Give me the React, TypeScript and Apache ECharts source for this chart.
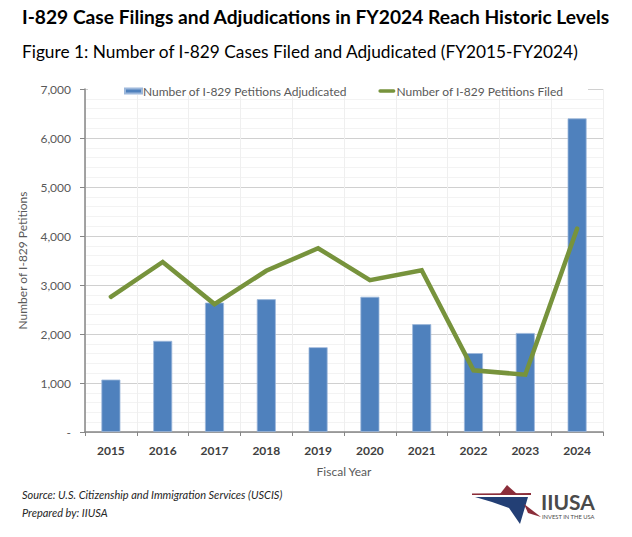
import React, { useEffect, useRef } from "react";
import * as echarts from "echarts";

const years = ["2015", "2016", "2017", "2018", "2019", "2020", "2021", "2022", "2023", "2024"];
const adjudicated = [1070, 1860, 2640, 2710, 1730, 2760, 2200, 1610, 2020, 6400];
const filed = [2760, 3470, 2610, 3290, 3750, 3100, 3300, 1260, 1170, 4150];

const titleText = "I-829 Case Filings and Adjudications in FY2024 Reach Historic Levels";
const subtitleText = "Figure 1: Number of I-829 Cases Filed and Adjudicated (FY2015-FY2024)";
const sourceText = "Source: U.S. Citizenship and Immigration Services (USCIS)";
const preparedText = "Prepared by: IIUSA";

const FONT = "Lato, 'Open Sans', sans-serif";

export default function App() {
  const ref = useRef<HTMLDivElement>(null);
  useEffect(() => {
    document.body.style.margin = "0";
    const chart = echarts.init(ref.current!, null, { renderer: "svg" });
    chart.setOption({
      animation: false,
      backgroundColor: "#fff",
      textStyle: { fontFamily: FONT },
      grid: { left: 85, right: 29, top: 89, bottom: 105, containLabel: false },
      legend: {
        top: 80,
        left: 119,
        itemGap: 31,
        itemWidth: 17,
        itemHeight: 5,
        textStyle: { color: "#595959", fontSize: 12, fontFamily: FONT, padding: [0, 0, 0, -4] },
        data: [
          { name: "Number of I-829 Petitions Adjudicated", icon: "rect" },
          {
            name: "Number of I-829 Petitions Filed",
            icon: "path://M2,0H18A2,2 0 0 1 18,4H2A2,2 0 0 1 2,0Z",
          },
        ],
      },
      xAxis: {
        type: "category",
        data: years,
        boundaryGap: true,
        axisLine: { lineStyle: { color: "#868686", width: 1.5 } },
        axisTick: { show: true, length: 4, lineStyle: { color: "#868686" } },
        splitLine: { show: true, lineStyle: { color: "#EFEFEF", width: 1 } },
        axisLabel: { color: "#404040", fontWeight: "bold", fontSize: 12, margin: 12, fontFamily: FONT },
        name: "Fiscal Year",
        nameLocation: "middle",
        nameGap: 33,
        nameTextStyle: { color: "#595959", fontSize: 12, fontFamily: FONT },
      },
      yAxis: {
        type: "value",
        min: 0,
        max: 7000,
        interval: 1000,
        axisLine: { show: true, lineStyle: { color: "#868686", width: 1.5 } },
        axisTick: { show: true, length: 5, lineStyle: { color: "#868686" } },
        axisLabel: {
          color: "#595959",
          fontSize: 12,
          margin: 14,
          fontFamily: FONT,
          formatter: (v: number) => (v === 0 ? "-" : v.toLocaleString("en-US")),
        },
        splitLine: { show: true, lineStyle: { color: "#D0D0D0", width: 1 } },
        minorTick: { show: false, splitNumber: 5 },
        minorSplitLine: { show: true, lineStyle: { color: "#F3F3F3", width: 1 } },
        name: "Number of I-829 Petitions",
        nameLocation: "middle",
        nameGap: 57,
        nameTextStyle: { color: "#595959", fontSize: 12, fontFamily: FONT },
      },
      series: [
        {
          name: "Number of I-829 Petitions Adjudicated",
          type: "bar",
          data: adjudicated,
          barWidth: 19,
          itemStyle: { color: "#4F81BD", borderColor: "#9DB8DB", borderWidth: 0.8 },
          z: 2,
        },
        {
          name: "Number of I-829 Petitions Filed",
          type: "line",
          data: filed,
          symbol: "none",
          lineStyle: { color: "#77933C", width: 4.5, cap: "round", join: "miter" },
          itemStyle: { color: "#77933C" },
          z: 3,
        },
      ],
      graphic: [
        { type: "rect", z: 1, shape: { x: 88, y: 80, width: 500, height: 15 }, style: { fill: "#fff" } },
        {
          type: "text",
          left: 22,
          top: 7,
          style: { text: titleText, font: `bold 19.2px ${FONT}`, fill: "#000" },
        },
        {
          type: "text",
          left: 22,
          top: 43,
          style: { text: subtitleText, font: `17.3px ${FONT}`, fill: "#000" },
        },
        {
          type: "text",
          left: 22,
          top: 489,
          style: { text: sourceText, font: `italic 11px ${FONT}`, fill: "#262626" },
        },
        {
          type: "text",
          left: 22,
          top: 507,
          style: { text: preparedText, font: `italic 11px ${FONT}`, fill: "#262626" },
        },
        {
          type: "group",
          children: [
            { type: "polygon", shape: { points: [[507, 485], [517, 494], [500, 494]] }, style: { fill: "#8B2E3A" } },
            { type: "polygon", shape: { points: [[472, 493.5], [531, 493], [531, 495], [472, 495]] }, style: { fill: "#8B2E3A" } },
            {
              type: "polygon",
              shape: { points: [[475, 497], [528, 497], [520, 524], [509, 508], [492, 502]] },
              style: { fill: "#233F75" },
            },
            {
              type: "polygon",
              shape: { points: [[524, 504], [541, 517], [528, 513]] },
              style: { fill: "#8B2E3A" },
            },
            {
              type: "text",
              x: 541,
              y: 491,
              style: { text: "IIUSA", font: `bold 21px ${FONT}`, lineHeight: 20, fill: "#4A4A4A" },
            },
            {
              type: "text",
              x: 542,
              y: 513,
              style: { text: "INVEST IN THE USA", font: `5.8px ${FONT}`, lineHeight: 6, fill: "#4A4A4A" },
            },
          ],
        },
      ],
    });
    return () => chart.dispose();
  }, []);
  return <div ref={ref} style={{ position: "fixed", left: 0, top: 0, width: 632, height: 537 }} />;
}
